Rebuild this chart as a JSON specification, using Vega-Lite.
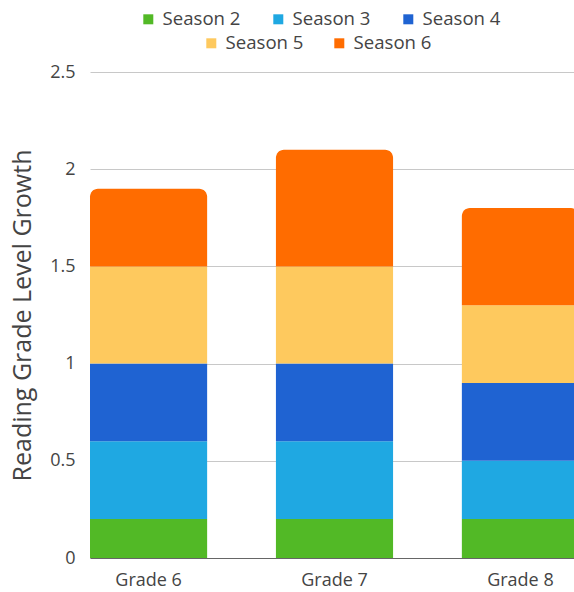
{
  "$schema": "https://vega.github.io/schema/vega-lite/v6.json",
  "autosize": "none",
  "width": 489,
  "height": 486,
  "padding": {"top": 72, "left": 90, "right": 0, "bottom": 34},
  "background": "white",
  "config": {
    "view": {"stroke": null},
    "font": "Open Sans",
    "axis": {"labelFont": "Open Sans", "titleFont": "Open Sans", "labelColor": "#444444", "titleColor": "#444444"},
    "legend": {"labelFont": "Open Sans", "labelColor": "#444444"}
  },
  "data": {
    "values": [
      {"grade": "Grade 6", "season": "Season 2", "value": 0.2},
      {"grade": "Grade 6", "season": "Season 3", "value": 0.4},
      {"grade": "Grade 6", "season": "Season 4", "value": 0.4},
      {"grade": "Grade 6", "season": "Season 5", "value": 0.5},
      {"grade": "Grade 6", "season": "Season 6", "value": 0.4},
      {"grade": "Grade 7", "season": "Season 2", "value": 0.2},
      {"grade": "Grade 7", "season": "Season 3", "value": 0.4},
      {"grade": "Grade 7", "season": "Season 4", "value": 0.4},
      {"grade": "Grade 7", "season": "Season 5", "value": 0.5},
      {"grade": "Grade 7", "season": "Season 6", "value": 0.6},
      {"grade": "Grade 8", "season": "Season 2", "value": 0.2},
      {"grade": "Grade 8", "season": "Season 3", "value": 0.3},
      {"grade": "Grade 8", "season": "Season 4", "value": 0.4},
      {"grade": "Grade 8", "season": "Season 5", "value": 0.4},
      {"grade": "Grade 8", "season": "Season 6", "value": 0.5}
    ]
  },
  "transform": [
    {"stack": "value", "groupby": ["grade"], "sort": [{"field": "season", "order": "ascending"}], "as": ["y0", "y1"]}
  ],
  "encoding": {
    "x": {
      "field": "grade", "type": "nominal",
      "scale": {"paddingInner": 0.37, "paddingOuter": 0},
      "axis": {"title": null, "labelAngle": 0, "labelFontSize": 18, "labelPadding": 13, "ticks": false, "tickSize": 0, "domain": true, "domainColor": "#666666", "domainWidth": 1, "grid": false}
    },
    "y": {
      "field": "y1", "type": "quantitative",
      "scale": {"domain": [0, 2.5], "nice": false},
      "axis": {"title": "Reading Grade Level Growth", "titleFontSize": 25, "titleFontWeight": "normal", "titlePadding": 14, "labelFontSize": 18, "labelPadding": 15, "ticks": false, "tickSize": 0, "domain": false, "grid": true, "gridColor": "#c8c8c8", "values": [0, 0.5, 1, 1.5, 2, 2.5], "format": "~g"}
    },
    "y2": {"field": "y0"}
  },
  "layer": [
    {
      "transform": [{"filter": {"field": "season", "oneOf": ["Season 2", "Season 3", "Season 4"]}}],
      "mark": {"type": "bar"},
      "encoding": {
        "color": {
          "field": "season", "type": "nominal",
          "scale": {"domain": ["Season 2", "Season 3", "Season 4"], "range": ["#52b926", "#1fa8e2", "#1f63d2"]},
          "legend": {"title": null, "orient": "none", "legendX": 49, "legendY": -62, "direction": "horizontal", "columns": 3, "gridAlign": "none", "columnPadding": 28, "symbolType": "square", "symbolSize": 100, "symbolStrokeWidth": 0, "labelFontSize": 18.6, "labelOffset": 5, "padding": 0}
        }
      }
    },
    {
      "transform": [{"filter": {"field": "season", "equal": "Season 5"}}],
      "mark": {"type": "bar"},
      "encoding": {
        "fill": {
          "field": "season", "type": "nominal",
          "scale": {"domain": ["Season 5", "Season 6"], "range": ["#fec95e", "#ff6c00"]},
          "legend": {"title": null, "orient": "none", "legendX": 112, "legendY": -38, "direction": "horizontal", "columns": 2, "gridAlign": "none", "columnPadding": 26, "symbolType": "square", "symbolSize": 100, "symbolStrokeWidth": 0, "labelFontSize": 18.6, "labelOffset": 5, "padding": 0}
        }
      }
    },
    {
      "transform": [{"filter": {"field": "season", "equal": "Season 6"}}],
      "mark": {"type": "bar", "cornerRadiusTopLeft": 8, "cornerRadiusTopRight": 8},
      "encoding": {
        "fill": {"field": "season", "type": "nominal"}
      }
    }
  ]
}
